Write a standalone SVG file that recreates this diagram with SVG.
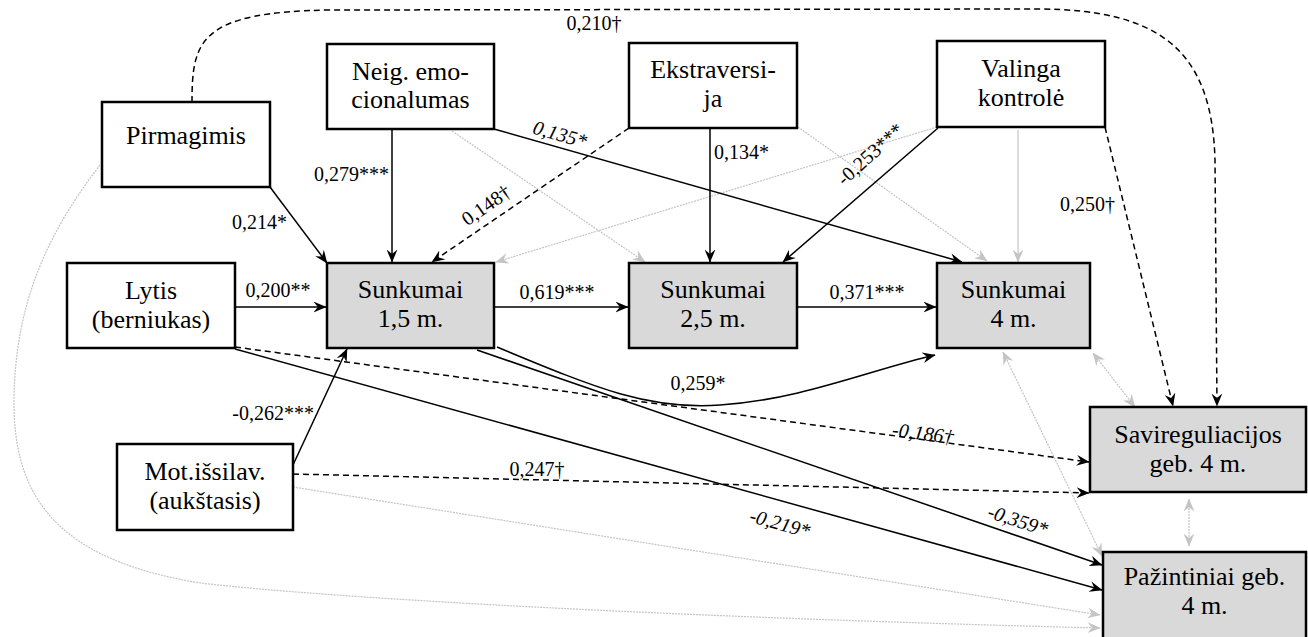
<svg xmlns="http://www.w3.org/2000/svg" width="1308" height="637" viewBox="0 0 1308 637" font-family="'Liberation Serif', 'DejaVu Serif', serif">
<style>
.box{fill:#fff;stroke:#000;stroke-width:2.5}
.sh{fill:#d9d9d9;stroke:#000;stroke-width:2.5}
.nt{font-family:'Liberation Serif','DejaVu Serif',serif;font-size:26px;fill:#000;text-anchor:middle}
.lb{font-family:'Liberation Serif','DejaVu Serif',serif;font-size:20px;fill:#000}
.it{font-style:italic}
.c{fill:none;stroke:#000;stroke-width:1.5;marker-end:url(#ab)}
.d{stroke-dasharray:6 4}
.g{fill:none;stroke:#c4c4c4;stroke-width:1.2;stroke-dasharray:2 1;marker-end:url(#ag)}
.gs{stroke-dasharray:none}
.bi{marker-start:url(#ag2)}
</style>
<defs>
<marker id="ab" viewBox="0 0 12 10" refX="11.5" refY="5" markerWidth="13" markerHeight="11" markerUnits="userSpaceOnUse" orient="auto"><path d="M0,0 L12,5 L0,10 L4,5 z" fill="#000"/></marker>
<marker id="ag" viewBox="0 0 12 10" refX="11.5" refY="5" markerWidth="13" markerHeight="11" markerUnits="userSpaceOnUse" orient="auto"><path d="M0,0 L12,5 L0,10 L4,5 z" fill="#c4c4c4"/></marker>
<marker id="ag2" viewBox="0 0 12 10" refX="11.5" refY="5" markerWidth="13" markerHeight="11" markerUnits="userSpaceOnUse" orient="auto-start-reverse"><path d="M0,0 L12,5 L0,10 L4,5 z" fill="#c4c4c4"/></marker>
</defs>

<g id="connectors">
<path class="g" d="M100,165 C50,230 15,300 14,400 C13,500 60,560 200,583 C350,600 700,618 1100,628"/>
<path class="g" d="M293,487 L1100,615"/>
<path class="g" d="M452,131 L645,262"/>
<path class="g" d="M937,127 L496,262"/>
<path class="g" d="M798,127 L987,261"/>
<path class="g gs" d="M1018,130 L1018,262"/>
<path class="g bi" d="M1093,353 L1135,407"/>
<path class="g bi" d="M1189,499 L1189,546"/>
<path class="g bi" d="M1003,352 L1102,556"/>
<path class="c d" d="M192,102 C192,40 200,12 330,10 L1040,9 C1160,10 1212,50 1215,160 L1217,406"/>
<path class="c" d="M270,187 L327,263"/>
<path class="c" d="M392,129 L392,262"/>
<path class="c d" d="M629,128 L432,262"/>
<path class="c" d="M494,129 L962,262"/>
<path class="c" d="M710,128 L710,262"/>
<path class="c" d="M938,128 L783,262"/>
<path class="c d" d="M1105,127 L1173,406"/>
<path class="c" d="M235,307 L326,307"/>
<path class="c" d="M494,307 L628,307"/>
<path class="c" d="M797,307 L936,307"/>
<path class="c" d="M293,465 L347,349"/>
<path class="c d" d="M235,347 L1089,462"/>
<path class="c d" d="M293,474 L1089,493"/>
<path class="c" d="M235,349 L1102,590"/>
<path class="c" d="M477,350 L1102,565"/>
<path class="c" d="M497,347 C600,390 650,410 720,405 C800,400 870,370 935,355"/>
</g>

<g id="labels">
<text class="lb" x="594" y="30" text-anchor="middle">0,210†</text>
<text class="lb" x="287" y="229" text-anchor="end">0,214*</text>
<text class="lb" x="389" y="181" text-anchor="end">0,279***</text>
<text class="lb" x="486" y="212" text-anchor="middle" transform="rotate(-35 486 205)">0,148†</text>
<text class="lb it" x="560" y="141" text-anchor="middle" transform="rotate(16 560 134)">0,135*</text>
<text class="lb" x="714" y="159">0,134*</text>
<text class="lb" x="870" y="161" text-anchor="middle" transform="rotate(-42 870 154)">-0,253***</text>
<text class="lb" x="1115" y="211" text-anchor="end">0,250†</text>
<text class="lb" x="278" y="297" text-anchor="middle">0,200**</text>
<text class="lb" x="557" y="299" text-anchor="middle">0,619***</text>
<text class="lb" x="867" y="299" text-anchor="middle">0,371***</text>
<text class="lb" x="698" y="390" text-anchor="middle">0,259*</text>
<text class="lb" x="314" y="420" text-anchor="end">-0,262***</text>
<text class="lb" x="537" y="476" text-anchor="middle">0,247†</text>
<text class="lb it" x="923" y="440" text-anchor="middle" transform="rotate(7.5 923 433)">-0,186†</text>
<text class="lb it" x="1018" y="527" text-anchor="middle" transform="rotate(18 1018 520)">-0,359*</text>
<text class="lb it" x="780" y="530" text-anchor="middle" transform="rotate(15.5 780 523)">-0,219*</text>
</g>

<g id="pirmagimis"><rect class="box" x="102" y="102" width="168" height="85"/><text class="nt" x="186" y="144">Pirmagimis</text></g>
<g id="neig"><rect class="box" x="327" y="44" width="167" height="85"/><text class="nt" x="410.5" y="80">Neig. emo-</text><text class="nt" x="410.5" y="108">cionalumas</text></g>
<g id="ekstraversija"><rect class="box" x="629" y="43" width="168" height="85"/><text class="nt" x="713" y="78">Ekstraversi-</text><text class="nt" x="713" y="107">ja</text></g>
<g id="valinga"><rect class="box" x="937" y="41" width="168" height="86"/><text class="nt" x="1021" y="77">Valinga</text><text class="nt" x="1021" y="106">kontrolė</text></g>
<g id="lytis"><rect class="box" x="67" y="263" width="168" height="85"/><text class="nt" x="151" y="299">Lytis</text><text class="nt" x="151" y="328">(berniukas)</text></g>
<g id="sunkumai15"><rect class="sh" x="327" y="263" width="167" height="85"/><text class="nt" x="410.5" y="298">Sunkumai</text><text class="nt" x="410.5" y="327">1,5 m.</text></g>
<g id="sunkumai25"><rect class="sh" x="629" y="263" width="168" height="85"/><text class="nt" x="713" y="298">Sunkumai</text><text class="nt" x="713" y="327">2,5 m.</text></g>
<g id="sunkumai4"><rect class="sh" x="937" y="263" width="153" height="85"/><text class="nt" x="1013.5" y="298">Sunkumai</text><text class="nt" x="1013.5" y="327">4 m.</text></g>
<g id="motissilav"><rect class="box" x="117" y="444" width="176" height="86"/><text class="nt" x="205" y="480">Mot.išsilav.</text><text class="nt" x="205" y="509">(aukštasis)</text></g>
<g id="savireguliacijos"><rect class="sh" x="1090" y="407" width="216" height="85"/><text class="nt" x="1198" y="443">Savireguliacijos</text><text class="nt" x="1198" y="472">geb. 4 m.</text></g>
<g id="pazintiniai"><rect class="sh" x="1103" y="552" width="203" height="90"/><text class="nt" x="1204.5" y="585">Pažintiniai geb.</text><text class="nt" x="1204.5" y="614">4 m.</text></g>
</svg>
